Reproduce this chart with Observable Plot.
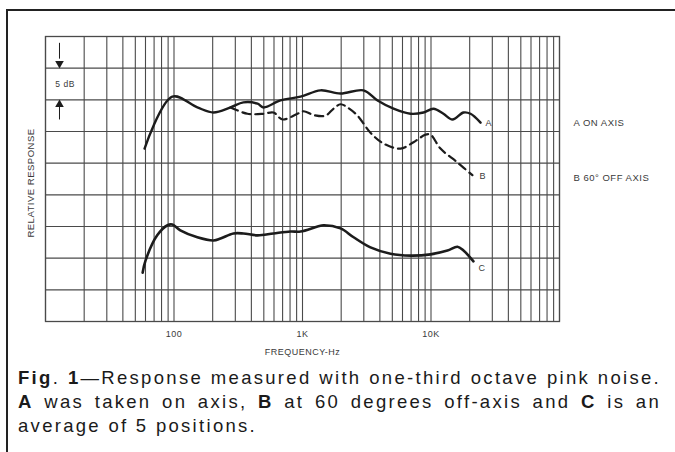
<!DOCTYPE html>
<html><head><meta charset="utf-8">
<script src="https://cdn.jsdelivr.net/npm/d3@7"></script>
<script src="https://cdn.jsdelivr.net/npm/@observablehq/plot@0.6"></script>
<style>
body{margin:0;background:#fff;width:675px;height:452px;overflow:hidden;position:relative;font-family:"Liberation Sans",Arial,sans-serif}
#border{position:absolute;left:6px;top:9px;right:0;bottom:0;border-left:2px solid #222;border-top:2px solid #222}
#chart{position:absolute;left:0;top:0}
#caption{position:absolute;left:18px;top:366px;width:643px;font-size:18.5px;line-height:24px;letter-spacing:2.3px;color:#1a1a1a}
.j{text-align:justify;text-align-last:justify}
svg text{letter-spacing:0.5px}
</style></head><body>
<div id="border"></div>
<div id="chart"></div>
<div id="caption">
<div class="j"><b>Fig</b>. <b>1</b>—Response measured with one-third octave pink noise.</div>
<div class="j"><b>A</b> was taken on axis, <b>B</b> at 60 degrees off-axis and <b>C</b> is an</div>
<div>average of 5 positions.</div>
</div>
<script>
// Curve A: on axis
const freqA = [59, 97, 152, 203, 275, 347, 447, 497, 674, 965, 1380, 1975, 2985, 3840, 5110, 6920, 8740, 10450, 12500, 14700, 17900, 20300, 24300];
const dbA   = [27.3, 35.5, 33.8, 33.0, 33.8, 34.6, 34.4, 33.8, 34.9, 35.5, 36.5, 36.0, 36.5, 34.9, 33.6, 32.8, 33.0, 33.6, 32.8, 31.9, 33.0, 32.8, 31.4];
// Curve B: 60 degrees off axis
const freqB = [275, 373, 497, 594, 698, 914, 1020, 1220, 1510, 1742, 1975, 2240, 2680, 3380, 4270, 5790, 7310, 9060, 9910, 11850, 16080, 21000];
const dbB   = [33.8, 32.8, 32.8, 33.0, 31.9, 32.8, 33.2, 32.6, 32.5, 33.6, 34.3, 33.8, 32.5, 29.8, 28.1, 27.3, 28.3, 29.5, 29.5, 27.3, 25.1, 23.1];
// Curve C: average of 5 positions
const freqC = [57, 60, 74, 89, 97, 112, 152, 203, 230, 290, 347, 447, 594, 807, 965, 1310, 1457, 1975, 2500, 3380, 4840, 6920, 9910, 13430, 16080, 17900, 21400];
const dbC   = [7.7, 9.6, 13.6, 15.2, 15.3, 14.4, 13.3, 12.8, 13.1, 13.9, 13.9, 13.6, 13.9, 14.2, 14.2, 15.0, 15.2, 14.7, 13.3, 11.7, 10.7, 10.4, 10.6, 11.2, 11.8, 11.2, 9.5];

// Axes / grid
const gridFreqs = [10,20,30,40,50,60,70,80,90,100,200,300,400,500,600,700,800,900,1000,2000,3000,4000,5000,6000,7000,8000,9000,10000,20000,30000,40000,50000,60000,70000,80000,90000,100000];
const gridDb = [0,5,10,15,20,25,30,35,40,45];
const tickFreqs = [100, 1000, 10000];
const tickLabels = ["100", "1K", "10K"];

// Curve end labels and right-hand legend
const endLabels = ["A", "B", "C"];
const endFreq = [26500, 23800, 23400];
const endDb = [31.3, 22.9, 8.4];
const legendLabels = ["A ON AXIS", "B 60° OFF AXIS"];
const legendFreq = [128500, 128500];
const legendDb = [31.4, 22.6];

const toRows = (fs, ds) => fs.map((f, i) => ({f, db: ds[i]}));
const tickMap = new Map(tickFreqs.map((f, i) => [f, tickLabels[i]]));
const ink = "#1c1c1c", gridInk = "#4a4a4a", textInk = "#3a3a3a";

const chart = Plot.plot({
  width: 675, height: 360,
  marginLeft: 45, marginRight: 116, marginTop: 36, marginBottom: 39,
  style: {background: "transparent", fontFamily: "Liberation Sans, Arial, sans-serif"},
  x: {type: "log", domain: [10, 100000]},
  y: {domain: [0, 45], axis: null},
  marks: [
    Plot.ruleX(gridFreqs, {stroke: gridInk, strokeWidth: 1.1}),
    Plot.ruleY(gridDb, {stroke: gridInk, strokeWidth: 1.1}),
    Plot.frame({stroke: gridInk, strokeWidth: 1.3}),
    Plot.axisX({ticks: tickFreqs, tickFormat: d => tickMap.get(d), tickSize: 0, tickPadding: 9,
      fontSize: 9, fill: textInk, label: "FREQUENCY-Hz", labelAnchor: "center", labelOffset: 33, labelArrow: "none"}),
    Plot.text(["RELATIVE RESPONSE"], {frameAnchor: "left", textAnchor: "middle", dx: -15, dy: 4, rotate: -90, fontSize: 9.5, fill: textInk}),
    // 5 dB marker
    Plot.text(["5 dB"], {x: 14.2, y: 37.5, fontSize: 8.5, fill: textInk}),
    Plot.link([0], {x1: 12.85, x2: 12.85, y1: 44, y2: 41.5, stroke: ink, strokeWidth: 1}),
    Plot.dot([0], {x: 12.85, y: 40.75, symbol: "triangle", r: 3.2, fill: ink, stroke: "none", rotate: 180}),
    Plot.link([0], {x1: 12.85, x2: 12.85, y1: 31.9, y2: 34, stroke: ink, strokeWidth: 1}),
    Plot.dot([0], {x: 12.85, y: 34.25, symbol: "triangle", r: 3.2, fill: ink, stroke: "none"}),
    // curves
    Plot.line(toRows(freqA, dbA), {x: "f", y: "db", curve: "catmull-rom", stroke: ink, strokeWidth: 2.4}),
    Plot.line(toRows(freqB, dbB), {x: "f", y: "db", curve: "catmull-rom", stroke: ink, strokeWidth: 2.2, strokeDasharray: "8,5"}),
    Plot.line(toRows(freqC, dbC), {x: "f", y: "db", curve: "catmull-rom", stroke: ink, strokeWidth: 2.6}),
    Plot.text(endLabels, {x: (d, i) => endFreq[i], y: (d, i) => endDb[i], text: d => d, textAnchor: "start", fontSize: 9, fill: textInk}),
    Plot.text(legendLabels, {x: (d, i) => legendFreq[i], y: (d, i) => legendDb[i], text: d => d, textAnchor: "start", fontSize: 9.5, fill: textInk})
  ]
});
document.getElementById("chart").appendChild(chart);
</script>
</body></html>
